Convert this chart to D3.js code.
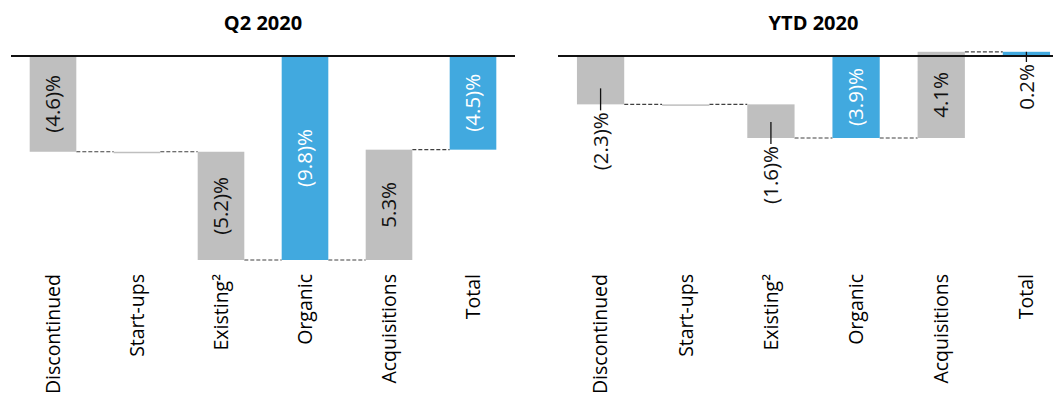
<!DOCTYPE html>
<html><head><meta charset="utf-8">
<script src="https://cdn.jsdelivr.net/npm/d3@7/dist/d3.min.js"></script>
<style>body{margin:0;background:#fff}svg{display:block}</style>
</head><body><svg id="c" width="1053" height="399"></svg>
<script>
const categories = ["Discontinued","Start-ups","Existing\u00B2","Organic","Acquisitions","Total"];
const isTotal = [false,false,false,true,false,true];
const q2Values = [-4.6, 0.0, -5.2, -9.8, 5.3, -4.5];
const ytdValues = [-2.3, 0.0, -1.6, -3.9, 4.1, 0.2];
const panelTitles = ["Q2 2020","YTD 2020"];

const GRAY = "#BFBFBF", BLUE = "#41A9DF";
const FONT = "'Open Sans', 'Liberation Sans', sans-serif";
const svg = d3.select("#c");

function fmt(v){ const s = Math.abs(v).toFixed(1); return v < 0 ? "(" + s + ")%" : s + "%"; }

function panel(values, title, xr, yDomain, yRange){
  const x = d3.scaleBand().domain(categories).range(xr).paddingInner(0.445).paddingOuter(0.2225);
  const y = d3.scaleLinear().domain(yDomain).range(yRange);
  let cum = 0;
  const rows = values.map((v,i)=>{
    let start, end;
    if (isTotal[i]) { start = 0; end = v; } else { start = cum; end = cum + v; }
    cum = end;
    return {cat:categories[i], v, start, end, total:isTotal[i]};
  });
  const g = svg.append("g");
  const axisEnd = Math.min(xr[1], 1053);
  g.append("text").attr("x", (xr[0]+xr[1])/2).attr("y", 30).attr("text-anchor","middle")
    .attr("font-family", FONT).attr("font-weight","bold").attr("font-size", 20).attr("fill","#000").text(title);

  // connectors
  rows.slice(0,-1).forEach((r,i)=>{
    g.append("line").attr("x1", x(r.cat)+x.bandwidth()).attr("x2", x(rows[i+1].cat))
      .attr("y1", y(r.end)).attr("y2", y(r.end))
      .attr("stroke","#404040").attr("stroke-width",1.2).attr("stroke-dasharray","4,2");
  });
  // bars
  rows.forEach(r=>{
    const top = y(Math.max(r.start,r.end)), bot = y(Math.min(r.start,r.end));
    const h = Math.max(bot-top, 1.5);
    r.top = top; r.bot = top + h;
    g.append("rect").attr("x", x(r.cat)).attr("y", top).attr("width", x.bandwidth()).attr("height", h)
      .attr("fill", r.total ? BLUE : GRAY);
  });
  // zero axis
  g.append("line").attr("x1", xr[0]).attr("x2", axisEnd).attr("y1", y(0)).attr("y2", y(0))
    .attr("stroke","#111").attr("stroke-width",2);
  // value labels
  rows.forEach(r=>{
    if (r.v === 0) return;
    const cx = x(r.cat) + x.bandwidth()/2;
    const t = g.append("text").attr("font-family", FONT).attr("font-size", 20.5)
      .attr("dy","0.35em").text(fmt(r.v));
    const len = t.node().getComputedTextLength();
    const hgt = r.bot - r.top;
    if (len <= hgt - 8) {
      t.attr("text-anchor","middle").attr("fill", r.total ? "#fff" : "#111")
        .attr("transform", `translate(${cx},${(r.top+r.bot)/2}) rotate(-90)`);
    } else {
      g.append("line").attr("x1",cx).attr("x2",cx)
        .attr("y1", Math.max(r.top, r.bot-16)).attr("y2", r.bot+6)
        .attr("stroke","#111").attr("stroke-width",1.3);
      t.attr("text-anchor","end").attr("fill","#111")
        .attr("transform", `translate(${cx},${r.bot+8}) rotate(-90)`);
    }
  });
  // category labels
  categories.forEach(c=>{
    g.append("text").attr("font-family", FONT).attr("font-size", 19.5).attr("fill","#000")
      .attr("text-anchor","end").attr("dy","0.35em")
      .attr("transform", `translate(${x(c)+x.bandwidth()/2},274) rotate(-90)`).text(c);
  });
}

panel(q2Values, panelTitles[0], [11, 515], [-9.8, 0], [260, 56]);
panel(ytdValues, panelTitles[1], [558, 1069], [-3.9, 0], [138, 56]);
</script></body></html>
